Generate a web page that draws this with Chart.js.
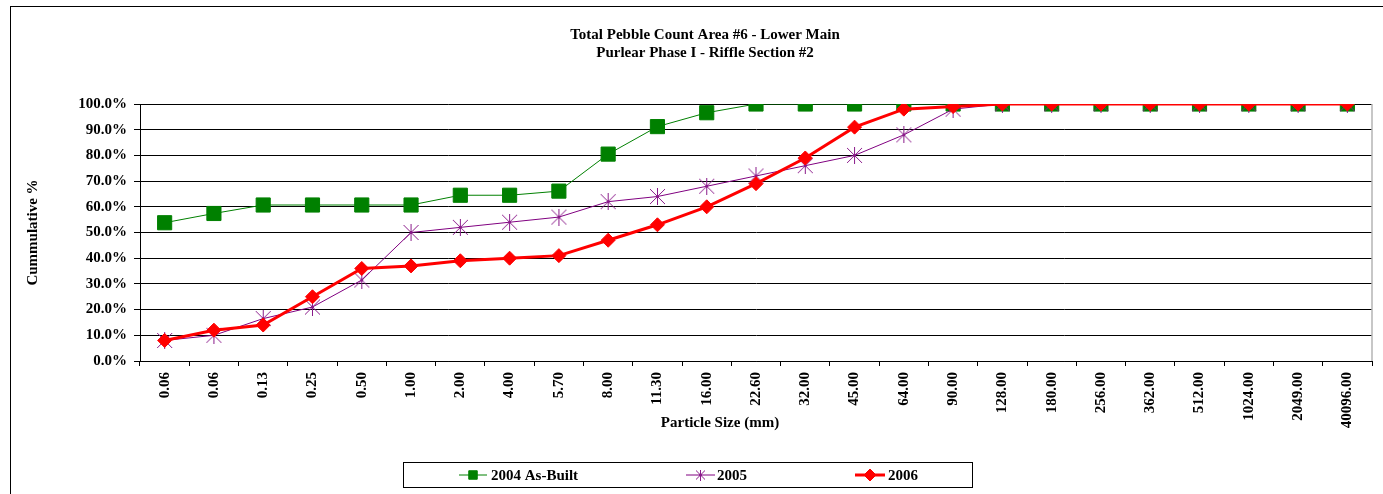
<!DOCTYPE html>
<html>
<head>
<meta charset="utf-8">
<title>Total Pebble Count Area #6 - Lower Main</title>
<script src="https://cdn.jsdelivr.net/npm/chart.js@4.4.1/dist/chart.umd.min.js"></script>
<style>
  html, body { margin: 0; padding: 0; background: #fff; overflow: hidden; }
  #frame { position: absolute; left: 10px; top: 6px; width: 1390px; height: 500px; border: 1px solid #000; }
  canvas { display: block; }
</style>
</head>
<body>
<div id="frame"><canvas id="pebbleChart" width="1390" height="500"></canvas></div>
<script>
// particle size classes (mm) along the x axis
const sizes = ['0.06', '0.06', '0.13', '0.25', '0.50', '1.00', '2.00', '4.00', '5.70', '8.00',
  '11.30', '16.00', '22.60', '32.00', '45.00', '64.00', '90.00', '128.00', '180.00', '256.00',
  '362.00', '512.00', '1024.00', '2049.00', '40096.00'];

// cumulative percent finer, one value per size class
const asBuilt2004 = [53.8, 57.4, 60.7, 60.7, 60.7, 60.7, 64.5, 64.5, 66.1, 80.5, 91.2, 96.6,
  100, 100, 100, 100, 100, 100, 100, 100, 100, 100, 100, 100, 100];
const count2005 = [8, 10, 16.5, 21, 31.5, 50, 52, 54, 56, 62, 64, 68, 72, 76, 80, 88, 98,
  100, 100, 100, 100, 100, 100, 100, 100];
const count2006 = [8, 12, 14, 25, 36, 37, 39, 40, 41, 47, 53, 60, 69, 79, 91, 98, 99,
  100, 100, 100, 100, 100, 100, 100, 100];

const yMin = 0;
const yMax = 100;
const yStep = 10;

const titleLines = ['Total Pebble Count Area #6 - Lower Main', 'Purlear Phase I - Riffle Section #2'];

const FONT = "'Liberation Serif', 'Times New Roman', serif";

// Excel style asterisk marker: an X with a vertical stroke through it
function makeAsterisk(size, color) {
  const c = document.createElement('canvas');
  c.width = size;
  c.height = size;
  const g = c.getContext('2d');
  const m = Math.floor(size / 2) + 0.5;
  g.strokeStyle = color;
  g.lineWidth = 1;
  g.beginPath();
  g.moveTo(m, 0); g.lineTo(m, size);
  g.moveTo(1, 1); g.lineTo(size - 1, size - 1);
  g.moveTo(size - 1, 1); g.lineTo(1, size - 1);
  g.stroke();
  g.fillStyle = color;
  g.beginPath();
  g.arc(m, m, 1.5, 0, Math.PI * 2);
  g.fill();
  return c;
}

const starBig = makeAsterisk(17, '#8a1a8a');
const starSmall = makeAsterisk(11, '#8a1a8a');

// two-line heading, centred on the whole chart box rather than the plot
const heading = {
  id: 'heading',
  afterDraw(chart) {
    const ctx = chart.ctx;
    ctx.save();
    ctx.font = 'bold 15px ' + FONT;
    ctx.fillStyle = '#000';
    ctx.textAlign = 'center';
    ctx.textBaseline = 'middle';
    titleLines.forEach((t, i) => ctx.fillText(t, 694, 28 + i * 18));
    ctx.restore();
  }
};

// right-hand edge of the plot area
const plotFrame = {
  id: 'plotFrame',
  beforeDatasetsDraw(chart) {
    const { ctx, chartArea: a } = chart;
    ctx.save();
    ctx.strokeStyle = '#b4b4b4';
    ctx.lineWidth = 1.5;
    ctx.beginPath();
    ctx.moveTo(a.right, a.top);
    ctx.lineTo(a.right, a.bottom);
    ctx.stroke();
    ctx.restore();
  }
};

// x axis caption sits a little left of the plot centre
const xCaption = {
  id: 'xCaption',
  afterDraw(chart) {
    const ctx = chart.ctx;
    ctx.save();
    ctx.font = 'bold 15px ' + FONT;
    ctx.fillStyle = '#000';
    ctx.textAlign = 'center';
    ctx.textBaseline = 'middle';
    ctx.fillText('Particle Size (mm)', 709, 416);
    ctx.restore();
  }
};

// boxed legend with line + marker samples
const legendSlots = [
  { from: 448, to: 476, text: 480, marker: { pointStyle: 'rect', radius: 6 } },
  { from: 675, to: 704, text: 706, marker: { pointStyle: starSmall, radius: 5 } },
  { from: 844, to: 874, text: 877, marker: { pointStyle: 'rectRot', radius: 6 } }
];

const boxLegend = {
  id: 'boxLegend',
  afterDraw(chart) {
    const ctx = chart.ctx;
    const rowY = 468;
    ctx.save();
    ctx.strokeStyle = '#000';
    ctx.lineWidth = 1;
    ctx.strokeRect(392.5, 455.5, 569, 25);
    chart.data.datasets.forEach((ds, i) => {
      const s = legendSlots[i];
      ctx.strokeStyle = ds.borderColor;
      ctx.lineWidth = ds.borderWidth;
      ctx.beginPath();
      ctx.moveTo(s.from, rowY);
      ctx.lineTo(s.to, rowY);
      ctx.stroke();
      ctx.fillStyle = ds.pointBackgroundColor;
      ctx.strokeStyle = ds.pointBorderColor;
      ctx.lineWidth = 1;
      Chart.helpers.drawPoint(ctx, {
        pointStyle: s.marker.pointStyle,
        radius: s.marker.radius,
        rotation: 0,
        borderWidth: 1
      }, (s.from + s.to) / 2, rowY);
      ctx.fillStyle = '#000';
      ctx.font = 'bold 15px ' + FONT;
      ctx.textAlign = 'left';
      ctx.textBaseline = 'middle';
      ctx.fillText(ds.label, s.text, rowY + 1);
    });
    ctx.restore();
  }
};

const ctx = document.getElementById('pebbleChart').getContext('2d');
new Chart(ctx, {
  type: 'line',
  data: {
    labels: sizes,
    datasets: [
      {
        label: '2004 As-Built',
        data: asBuilt2004,
        borderColor: '#008000',
        borderWidth: 1,
        pointStyle: 'rect',
        pointRadius: 10,
        pointBackgroundColor: '#008000',
        pointBorderColor: '#008000',
        pointBorderWidth: 1,
        order: 3
      },
      {
        label: '2005',
        data: count2005,
        borderColor: '#800080',
        borderWidth: 1,
        pointStyle: starBig,
        pointRadius: 8,
        pointBackgroundColor: '#800080',
        pointBorderColor: '#800080',
        order: 2
      },
      {
        label: '2006',
        data: count2006,
        borderColor: '#ff0000',
        borderWidth: 3,
        pointStyle: 'rectRot',
        pointRadius: 7,
        pointBackgroundColor: '#ff0000',
        pointBorderColor: '#ff0000',
        pointBorderWidth: 1,
        order: 1
      }
    ]
  },
  options: {
    responsive: false,
    animation: false,
    layout: { padding: { left: 0, right: 29, top: 97, bottom: 66 } },
    plugins: {
      legend: { display: false },
      tooltip: { enabled: false },
      title: { display: false }
    },
    scales: {
      x: {
        offset: true,
        grid: { offset: true, drawOnChartArea: false, color: '#000', tickLength: 5 },
        border: { color: '#000' },
        ticks: {
          autoSkip: false,
          minRotation: 90,
          maxRotation: 90,
          padding: 6,
          color: '#000',
          font: { family: FONT, size: 15, weight: 'bold' }
        },
        afterFit(scale) { scale.height = 80; }
      },
      y: {
        min: yMin,
        max: yMax,
        grid: { color: '#000', lineWidth: 1, tickLength: 6 },
        border: { color: '#000' },
        ticks: {
          stepSize: yStep,
          padding: 7,
          color: '#000',
          font: { family: FONT, size: 15, weight: 'bold' },
          callback: v => v.toFixed(1) + '%'
        },
        title: {
          display: true,
          text: 'Cummulative %',
          color: '#000',
          font: { family: FONT, size: 15, weight: 'bold', lineHeight: 1.2 },
          padding: { top: 13, bottom: 0 }
        },
        afterFit(scale) { scale.width = 129; }
      }
    }
  },
  plugins: [heading, plotFrame, xCaption, boxLegend]
});
</script>
</body>
</html>
